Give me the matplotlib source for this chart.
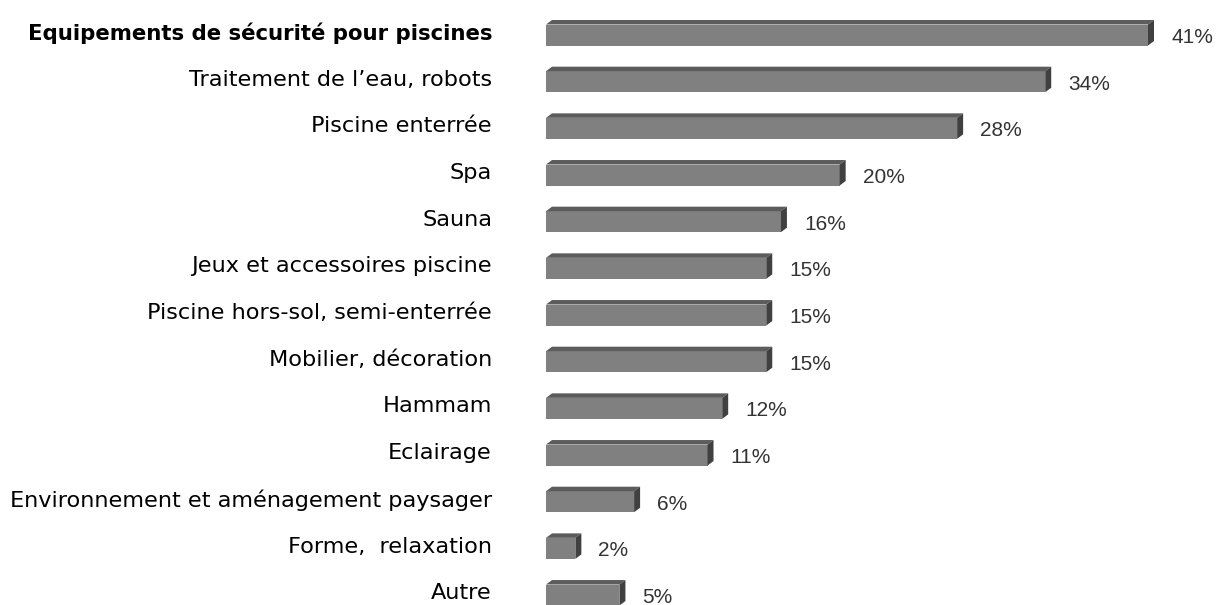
import matplotlib.pyplot as plt
from matplotlib.patches import Polygon

# Data
CATEGORIES = [
    "Equipements de sécurité pour piscines",
    "Traitement de l\u2019eau, robots",
    "Piscine enterrée",
    "Spa",
    "Sauna",
    "Jeux et accessoires piscine",
    "Piscine hors-sol, semi-enterrée",
    "Mobilier, décoration",
    "Hammam",
    "Eclairage",
    "Environnement et aménagement paysager",
    "Forme,  relaxation",
    "Autre",
]
VALUES = [41, 34, 28, 20, 16, 15, 15, 15, 12, 11, 6, 2, 5]
LABELS = ["%d%%" % v for v in VALUES]

FRONT = "#808080"
TOP = "#5c5c5c"
SIDE = "#404040"

W, H = 1216, 605
fig = plt.figure(figsize=(W / 100, H / 100), dpi=100)

# axes start where the bars start; scale chosen so 41% ends near x=1148px
PX_PER_PCT = 602 / 41.0
ax_w = 45 * PX_PER_PCT
ax = fig.add_axes([546 / W, 0, ax_w / W, 1])
ax.set_xlim(0, 45)
# row i centred at 35 + 46.67*i pixels from the top
ROW = 46.67
ax.set_ylim((H - 35) / ROW, -35 / ROW)
ax.axis("off")

bar_h = 21 / ROW
dx = 6 / PX_PER_PCT
dy = 4.5 / ROW

y = list(range(len(VALUES)))
ax.barh(y, VALUES, height=bar_h, color=FRONT, edgecolor="none", zorder=2)


def fit_size(text, width, weight="normal"):
    # font size that makes `text` about `width` pixels wide
    renderer = fig.canvas.get_renderer()
    probe = fig.text(0, 0, text, fontsize=10, family="DejaVu Sans", fontweight=weight)
    size = 10 * width / probe.get_window_extent(renderer).width
    probe.remove()
    return size


cat_size = fit_size(CATEGORIES[10], 482)
bold_size = fit_size(CATEGORIES[0], 466, "bold")

for i, v in enumerate(VALUES):
    top = i - bar_h / 2
    bot = i + bar_h / 2
    ax.add_patch(Polygon([(0, top), (v, top), (v + dx, top - dy), (dx, top - dy)],
                         closed=True, facecolor=TOP, edgecolor="none", zorder=3))
    ax.add_patch(Polygon([(v, top), (v + dx, top - dy), (v + dx, bot - dy), (v, bot)],
                         closed=True, facecolor=SIDE, edgecolor="none", zorder=3))
    ax.text(v + dx + 17 / PX_PER_PCT, i + 0.05, LABELS[i], ha="left", va="center",
            fontsize=15, color="#333333", family="Liberation Sans")
    ax.text(-54 / PX_PER_PCT, i - 0.04, CATEGORIES[i], ha="right", va="center",
            fontsize=bold_size if i == 0 else cat_size, color="black",
            family="DejaVu Sans", fontweight="bold" if i == 0 else "normal",
            clip_on=False)

fig.savefig("out.png", dpi=100)
